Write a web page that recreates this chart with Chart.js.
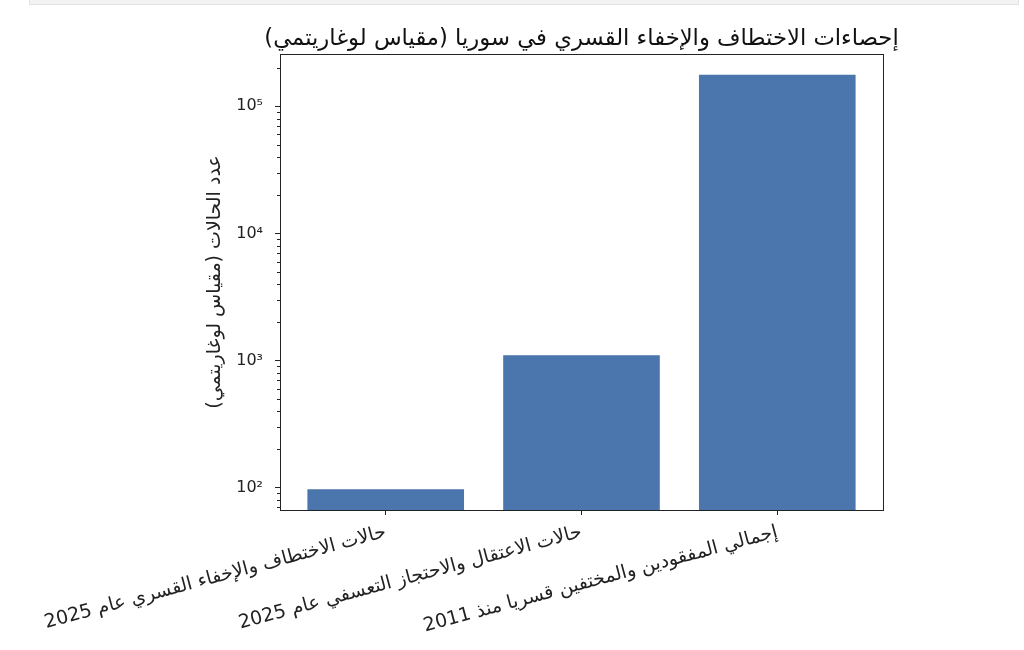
<!DOCTYPE html>
<html>
<head>
<meta charset="utf-8">
<script src="https://cdn.jsdelivr.net/npm/chart.js@4"></script>
<style>
html, body { margin: 0; padding: 0; background: #fff; }
#wrap { position: absolute; left: 0; top: 0; width: 1024px; height: 650px; }
#strip { position: absolute; left: 29px; top: 0; width: 988px; height: 4px; background: #f2f2f2; border: 1px solid #e2e2e2; border-top: none; }
canvas { direction: rtl; }
</style>
</head>
<body>
<div id="wrap"><canvas id="chart"></canvas></div>
<div id="strip"></div>
<script>
// بيانات الرسم
var categories = [
  'حالات الاختطاف والإخفاء القسري عام 2025',
  'حالات الاعتقال والاحتجاز التعسفي عام 2025',
  'إجمالي المفقودين والمختفين قسريا منذ 2011'
];
var caseCounts = [97, 1100, 177000];
var decades = [1, 2, 3, 4, 5, 6];

var chartTitle = 'إحصاءات الاختطاف والإخفاء القسري في سوريا (مقياس لوغاريتمي)';
var yTitle = 'عدد الحالات (مقياس لوغاريتمي)';

var sup = { '0': '⁰', '1': '¹', '2': '²', '3': '³', '4': '⁴', '5': '⁵', '6': '⁶', '7': '⁷', '8': '⁸', '9': '⁹' };

// حدود المحاور مثل matplotlib (هامش 5%)
var lmin = Math.log10(Math.min.apply(null, caseCounts));
var lmax = Math.log10(Math.max.apply(null, caseCounts));
var lpad = (lmax - lmin) * 0.05;
var yMin = Math.pow(10, lmin - lpad);
var yMax = Math.pow(10, lmax + lpad);

var xlo = -0.4, xhi = categories.length - 1 + 0.4;
var xpad = (xhi - xlo) * 0.05;

Chart.defaults.font.family = '"DejaVu Sans", sans-serif';
Chart.defaults.color = '#222';

// إطار المحاور والتدريجات الثانوية والعنوان فوق منطقة الرسم
var frame = {
  id: 'frame',
  afterDatasetsDraw: function (chart) {
    var a = chart.chartArea, ctx = chart.ctx;
    ctx.save();
    ctx.strokeStyle = '#222';
    ctx.lineWidth = 1;
    ctx.strokeRect(Math.round(a.left) + 0.5, Math.round(a.top) + 0.5,
      Math.round(a.right - a.left), Math.round(a.bottom - a.top));
    ctx.restore();
  },
  afterDraw: function (chart) {
    var y = chart.scales.y, a = chart.chartArea, ctx = chart.ctx;
    ctx.save();
    ctx.strokeStyle = '#222';
    ctx.lineWidth = 1;
    decades.forEach(function (e) {
      for (var m = 2; m <= 9; m++) {
        var v = m * Math.pow(10, e);
        if (v < y.min || v > y.max) continue;
        var p = Math.round(y.getPixelForValue(v)) + 0.5;
        ctx.beginPath();
        ctx.moveTo(a.left, p);
        ctx.lineTo(a.left - 3, p);
        ctx.stroke();
      }
    });
    ctx.fillStyle = '#111';
    ctx.font = '22.7px "DejaVu Sans", sans-serif';
    ctx.textAlign = 'center';
    ctx.textBaseline = 'middle';
    ctx.fillText(chartTitle, (a.left + a.right) / 2, a.top - 15);
    ctx.restore();
  }
};

new Chart(document.getElementById('chart'), {
  type: 'bar',
  data: {
    datasets: [{
      data: categories.map(function (c, i) { return { x: i, y: caseCounts[i] }; }),
      backgroundColor: '#4a75ad',
      borderWidth: 0,
      barPercentage: 0.8,
      categoryPercentage: 1.0
    }]
  },
  options: {
    responsive: true,
    maintainAspectRatio: false,
    animation: false,
    layout: { padding: { left: 200, right: 141, top: 54, bottom: 0 } },
    plugins: {
      legend: { display: false },
      tooltip: { enabled: false },
      title: { display: false }
    },
    scales: {
      x: {
        type: 'linear',
        min: xlo - xpad,
        max: xhi + xpad,
        offset: false,
        grid: { offset: false, drawOnChartArea: false, drawTicks: true, tickLength: 5, tickColor: '#222' },
        border: { display: false },
        afterBuildTicks: function (axis) {
          axis.ticks = categories.map(function (c, i) { return { value: i }; });
        },
        afterFit: function (scale) {
          scale.height = 140;
          scale.paddingLeft = 0;
          scale.paddingRight = 0;
        },
        ticks: {
          autoSkip: false,
          minRotation: 15,
          maxRotation: 15,
          padding: 6,
          color: '#222',
          font: { size: 19 },
          callback: function (v) { return categories[v]; }
        }
      },
      y: {
        type: 'logarithmic',
        min: yMin,
        max: yMax,
        grid: { drawOnChartArea: false, drawTicks: true, tickLength: 5, tickColor: '#222' },
        border: { display: false },
        afterBuildTicks: function (axis) {
          axis.ticks = decades
            .map(function (e) { return Math.pow(10, e); })
            .filter(function (v) { return v >= axis.min && v <= axis.max; })
            .map(function (v) { return { value: v, major: true }; });
        },
        afterFit: function (scale) {
          scale.width = 80;
          scale.paddingTop = 0;
          scale.paddingBottom = 0;
        },
        ticks: {
          padding: 12,
          color: '#222',
          font: { size: 16 },
          callback: function (v) {
            var e = String(Math.round(Math.log10(v)));
            return '10' + e.split('').map(function (d) { return sup[d]; }).join('');
          }
        },
        title: {
          display: true,
          text: yTitle,
          color: '#222',
          font: { size: 19 },
          padding: { top: 4, bottom: 4 }
        }
      }
    }
  },
  plugins: [frame]
});
</script>
</body>
</html>
